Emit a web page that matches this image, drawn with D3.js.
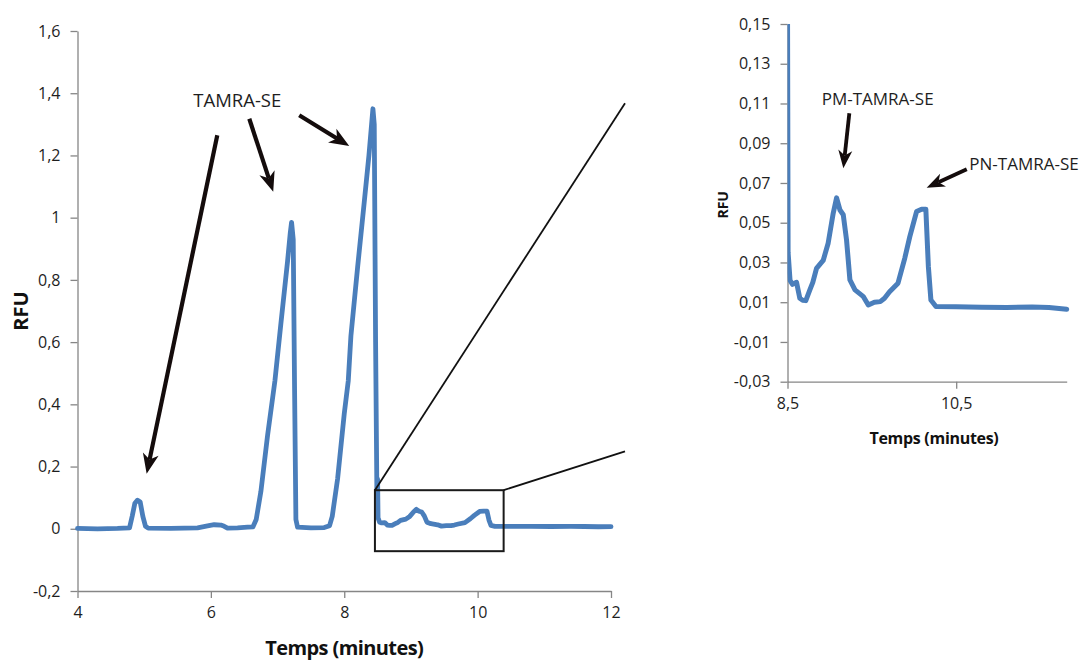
<!DOCTYPE html>
<html>
<head>
<meta charset="utf-8">
<script src="https://cdn.jsdelivr.net/npm/d3@7"></script>
<style>
  html, body { margin: 0; padding: 0; background: #fff; }
  svg { display: block; font-family: "Open Sans", "Noto Sans", sans-serif; }
</style>
</head>
<body>
<svg id="chart" width="1086" height="661"></svg>
<script>
// ---------- DATA ----------
// Main electropherogram, 4 - 8.5 min
const mainTime = [4.0, 4.3, 4.6, 4.78, 4.82, 4.86, 4.9, 4.94, 4.98, 5.02, 5.06, 5.4, 5.8, 5.95, 6.05, 6.15, 6.2, 6.25, 6.4, 6.55, 6.63, 6.68, 6.75, 6.85, 6.96, 7.05, 7.15, 7.19, 7.21, 7.235, 7.255, 7.275, 7.3, 7.5, 7.7, 7.78, 7.82, 7.9, 8.0, 8.06, 8.1, 8.2, 8.3, 8.37, 8.43, 8.45, 8.47, 8.49];
const mainRFU  = [0.001, 0.0, 0.001, 0.003, 0.04, 0.082, 0.092, 0.086, 0.04, 0.008, 0.002, 0.001, 0.003, 0.009, 0.013, 0.012, 0.008, 0.002, 0.003, 0.005, 0.006, 0.03, 0.12, 0.3, 0.475, 0.66, 0.86, 0.95, 0.985, 0.93, 0.45, 0.03, 0.005, 0.003, 0.004, 0.01, 0.04, 0.16, 0.37, 0.475, 0.62, 0.84, 1.05, 1.2, 1.35, 1.3, 0.6, 0.1];
// Zoomed region, 8.5 - 11.81 min
const zoomTime = [8.5, 8.507, 8.53, 8.56, 8.607, 8.646, 8.68, 8.717, 8.765, 8.8, 8.844, 8.923, 8.982, 9.042, 9.082, 9.122, 9.161, 9.2, 9.24, 9.3, 9.4, 9.458, 9.53, 9.6, 9.65, 9.71, 9.81, 9.89, 9.95, 10.03, 10.09, 10.14, 10.17, 10.2, 10.26, 10.5, 10.8, 11.1, 11.4, 11.6, 11.81];
const zoomRFU  = [0.16, 0.035, 0.021, 0.019, 0.020, 0.012, 0.011, 0.0108, 0.0162, 0.020, 0.027, 0.031, 0.0397, 0.0548, 0.0625, 0.0564, 0.054, 0.0413, 0.0212, 0.0162, 0.0128, 0.0086, 0.0100, 0.0103, 0.0120, 0.0153, 0.0196, 0.0321, 0.0430, 0.0556, 0.0568, 0.0568, 0.028, 0.0111, 0.0078, 0.0077, 0.0075, 0.0074, 0.0076, 0.0073, 0.0065];
// Tail of the main trace
const tailTime = [12.0];
const tailRFU  = [0.007];

// Tick values
const leftXTicks  = [4, 6, 8, 10, 12];
const leftYTicks  = [-0.2, 0, 0.2, 0.4, 0.6, 0.8, 1, 1.2, 1.4, 1.6];
const rightXTicks = [8.5, 10.5];
const rightYTicks = [-0.03, -0.01, 0.01, 0.03, 0.05, 0.07, 0.09, 0.11, 0.13, 0.15];

// Texts
const xTitle = "Temps (minutes)";
const yTitle = "RFU";
const mainLabel = "TAMRA-SE";
const pmLabel = "PM-TAMRA-SE";
const pnLabel = "PN-TAMRA-SE";

// Annotation anchors (data units of each panel)
const mainArrows = [ // [x1,y1,x2,y2] tail -> tip
  [6.096, 1.265, 5.037, 0.177],
  [6.576, 1.318, 6.935, 1.083],
  [7.325, 1.329, 8.075, 1.230]
];
const zoomBox = [8.46, 10.39, -0.072, 0.124];
const connectorEnd = [12.21, 1.368, 0.249];
const rightArrows = [
  [9.233, 0.1051, 9.162, 0.0774],
  [10.625, 0.0769, 10.150, 0.0676]
];

// ---------- DRAW ----------
const svg = d3.select("#chart");
const AXIS = "#868686", TXT = "#1e1e1e", LINE = "#4a7ebb", ARROW = "#140c0c";
const fmt = d => String(+d.toFixed(2)).replace(".", ",");

const mainData = mainTime.map((t, i) => ({t, v: mainRFU[i]}))
  .concat(zoomTime.map((t, i) => ({t, v: zoomRFU[i]})))
  .concat(tailTime.map((t, i) => ({t, v: tailRFU[i]})));
const zoomData = zoomTime.map((t, i) => ({t, v: zoomRFU[i]}));

// Left panel scales
const xL = d3.scaleLinear().domain([4, 12]).range([77.5, 611]);
const yL = d3.scaleLinear().domain([-0.2, 1.6]).range([591, 31]);
// Right panel scales
const xR = d3.scaleLinear().domain([8.5, 11.81]).range([787.5, 1066.7]);
const yR = d3.scaleLinear().domain([-0.03, 0.15]).range([381.7, 24]);

function styleAxis(g, size) {
  g.selectAll(".domain").attr("stroke", AXIS).attr("stroke-width", 1.3);
  g.selectAll(".tick line").attr("stroke", AXIS).attr("stroke-width", 1.3);
  g.selectAll(".tick text").attr("fill", TXT).attr("font-size", size)
    .attr("font-family", "'Open Sans', sans-serif");
}

// Left axes
svg.append("g").attr("transform", `translate(${xL(4)},0)`)
  .call(d3.axisLeft(yL).tickValues(leftYTicks).tickFormat(fmt).tickSize(7).tickSizeOuter(0).tickPadding(10))
  .call(g => styleAxis(g, 16));
svg.append("g").attr("transform", `translate(0,${yL(-0.2)})`)
  .call(d3.axisBottom(xL).tickValues(leftXTicks).tickFormat(fmt).tickSize(7).tickSizeOuter(0).tickPadding(9))
  .call(g => styleAxis(g, 16));

// Right axes
svg.append("g").attr("transform", `translate(${xR(8.5)},0)`)
  .call(d3.axisLeft(yR).tickValues(rightYTicks).tickFormat(fmt).tickSize(7).tickSizeOuter(0).tickPadding(10))
  .call(g => styleAxis(g, 16));
svg.append("g").attr("transform", `translate(0,${yR(-0.03)})`)
  .call(d3.axisBottom(xR).tickValues(rightXTicks).tickFormat(fmt).tickSize(7).tickSizeOuter(0).tickPadding(9))
  .call(g => styleAxis(g, 16));

// Clip for right panel
svg.append("defs").append("clipPath").attr("id", "clipR")
  .append("rect").attr("x", xR(8.5)).attr("y", yR(0.15))
  .attr("width", xR(11.81) - xR(8.5) + 4).attr("height", yR(-0.03) - yR(0.15));

// Lines
const lineL = d3.line().x(d => xL(d.t)).y(d => yL(d.v)).curve(d3.curveLinear);
svg.append("path").datum(mainData).attr("d", lineL)
  .attr("fill", "none").attr("stroke", LINE).attr("stroke-width", 4.8)
  .attr("stroke-linejoin", "round").attr("stroke-linecap", "round");

const lineR = d3.line().x(d => xR(d.t)).y(d => yR(d.v)).curve(d3.curveLinear);
svg.append("path").datum(zoomData).attr("d", lineR).attr("clip-path", "url(#clipR)")
  .attr("fill", "none").attr("stroke", LINE).attr("stroke-width", 5)
  .attr("stroke-linejoin", "round").attr("stroke-linecap", "round");

// Zoom box and connectors
svg.append("rect")
  .attr("x", xL(zoomBox[0])).attr("y", yL(zoomBox[3]))
  .attr("width", xL(zoomBox[1]) - xL(zoomBox[0]))
  .attr("height", yL(zoomBox[2]) - yL(zoomBox[3]))
  .attr("fill", "none").attr("stroke", "#1a1a1a").attr("stroke-width", 2);
svg.append("line")
  .attr("x1", xL(zoomBox[0])).attr("y1", yL(zoomBox[3]))
  .attr("x2", xL(connectorEnd[0])).attr("y2", yL(connectorEnd[1]))
  .attr("stroke", "#111").attr("stroke-width", 1.8);
svg.append("line")
  .attr("x1", xL(zoomBox[1])).attr("y1", yL(zoomBox[3]))
  .attr("x2", xL(connectorEnd[0])).attr("y2", yL(connectorEnd[2]))
  .attr("stroke", "#111").attr("stroke-width", 1.8);

// Arrows
function arrow(x1, y1, x2, y2, w, headL, headW) {
  const dx = x2 - x1, dy = y2 - y1, len = Math.hypot(dx, dy);
  const ux = dx / len, uy = dy / len, px = -uy, py = ux;
  const bx = x2 - ux * headL, by = y2 - uy * headL;
  const nx = x2 - ux * headL * 0.72, ny = y2 - uy * headL * 0.72;
  svg.append("line").attr("x1", x1).attr("y1", y1).attr("x2", nx).attr("y2", ny)
    .attr("stroke", ARROW).attr("stroke-width", w);
  svg.append("path")
    .attr("d", `M${x2},${y2} L${bx + px * headW / 2},${by + py * headW / 2} L${nx},${ny} L${bx - px * headW / 2},${by - py * headW / 2} Z`)
    .attr("fill", ARROW);
}
mainArrows.forEach(a => arrow(xL(a[0]), yL(a[1]), xL(a[2]), yL(a[3]), 4.2, 20, 16));
rightArrows.forEach(a => arrow(xR(a[0]), yR(a[1]), xR(a[2]), yR(a[3]), 3.8, 18, 14));

// Labels
svg.append("text").attr("x", xL(6.396)).attr("y", yL(1.381))
  .attr("text-anchor", "middle").attr("dominant-baseline", "central")
  .attr("font-size", 18.5).attr("fill", TXT).text(mainLabel);
svg.append("text").attr("x", xR(9.569)).attr("y", yR(0.1123))
  .attr("text-anchor", "middle").attr("dominant-baseline", "central")
  .attr("font-size", 17).attr("fill", TXT).text(pmLabel);
svg.append("text").attr("x", xR(10.655)).attr("y", yR(0.0799))
  .attr("text-anchor", "start").attr("dominant-baseline", "central")
  .attr("font-size", 17).attr("fill", TXT).text(pnLabel);

// Axis titles
svg.append("text").attr("x", (xL(4) + xL(12)) / 2).attr("y", 647)
  .attr("text-anchor", "middle").attr("dominant-baseline", "central")
  .attr("font-size", 20).attr("font-weight", "bold").attr("letter-spacing", -0.6)
  .attr("fill", "#111").text(xTitle);
svg.append("text").attr("transform", `translate(20,${yL(0.7)}) rotate(-90)`)
  .attr("text-anchor", "middle").attr("dominant-baseline", "central")
  .attr("font-size", 20).attr("font-weight", "bold").attr("fill", "#111").text(yTitle);
svg.append("text").attr("x", 934).attr("y", 438)
  .attr("text-anchor", "middle").attr("dominant-baseline", "central")
  .attr("font-size", 16).attr("font-weight", "bold").attr("letter-spacing", -0.3)
  .attr("fill", "#111").text(xTitle);
svg.append("text").attr("transform", `translate(722,${yR(0.059)}) rotate(-90)`)
  .attr("text-anchor", "middle").attr("dominant-baseline", "central")
  .attr("font-size", 14).attr("font-weight", "bold").attr("fill", "#111").text(yTitle);
</script>
</body>
</html>
